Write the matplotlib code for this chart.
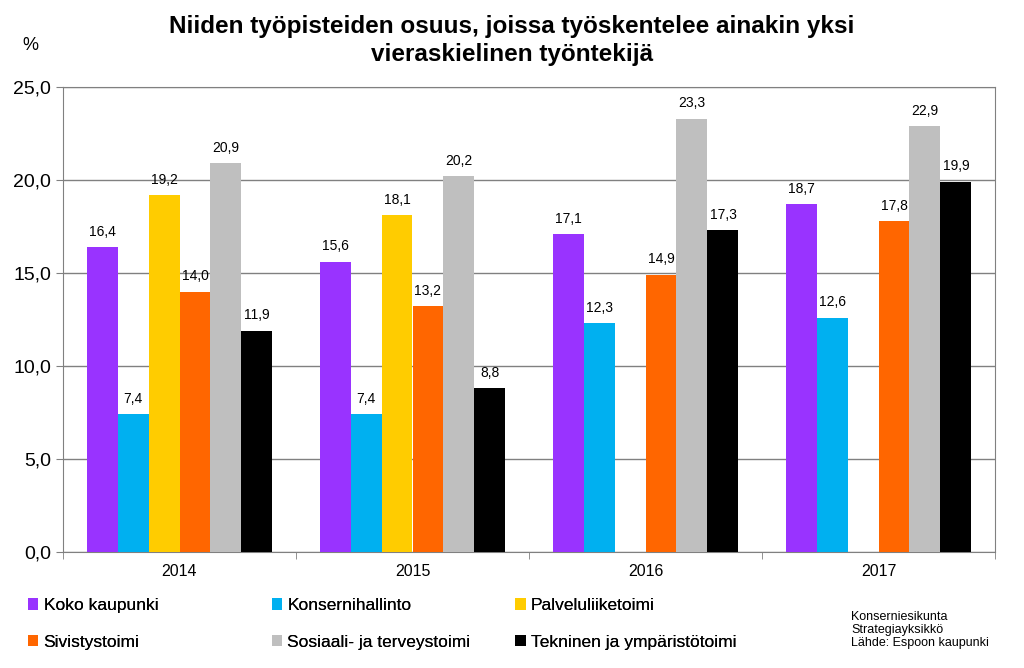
import numpy as np
import matplotlib.pyplot as plt
from matplotlib.ticker import FuncFormatter, FixedLocator

years = ["2014", "2015", "2016", "2017"]
series = ["Koko kaupunki", "Konsernihallinto", "Palveluliiketoimi",
          "Sivistystoimi", "Sosiaali- ja terveystoimi", "Tekninen ja ympäristötoimi"]
koko = [16.4, 15.6, 17.1, 18.7]
konserni = [7.4, 7.4, 12.3, 12.6]
palvelu = [19.2, 18.1, np.nan, np.nan]
sivistys = [14.0, 13.2, 14.9, 17.8]
sosiaali = [20.9, 20.2, 23.3, 22.9]
tekninen = [11.9, 8.8, 17.3, 19.9]
values = [koko, konserni, palvelu, sivistys, sosiaali, tekninen]
colors = ["#9933FF", "#00B0F0", "#FFCC00", "#FF6600", "#BFBFBF", "#000000"]

plt.rcParams['font.family'] = ["Liberation Sans", "DejaVu Sans"]

fig = plt.figure(figsize=(10.24, 6.68), dpi=100)
ax = fig.add_axes([63 / 1024, 1 - 552 / 668, (995 - 63) / 1024, (552 - 87) / 668])

x = np.arange(len(years))
w = 0.133
for i, (name, vals, c) in enumerate(zip(series, values, colors)):
    pos = x + (i - 2.5) * w
    ax.bar(pos, vals, w, color=c, label=name, zorder=3)
    for p, v in zip(pos, vals):
        if not np.isnan(v):
            ax.text(p, v + 0.45, f"{v:.1f}".replace(".", ","), ha="center",
                    va="bottom", fontsize=10, zorder=4)

ax.set_xlim(-0.5, 3.5)
ax.set_ylim(0, 25)
ax.set_yticks(np.arange(0, 25.1, 5))
ax.yaxis.set_major_formatter(FuncFormatter(lambda v, p: f"{v:.1f}".replace(".", ",")))
ax.yaxis.grid(True, color="#808080", linewidth=1, zorder=0)
ax.set_xticks(x)
ax.set_xticklabels(years)
ax.xaxis.set_minor_locator(FixedLocator(np.arange(-0.5, 3.6, 1)))
ax.tick_params(axis="x", which="major", length=0, labelsize=11.5, pad=9)
ax.tick_params(axis="x", which="minor", length=5, color="#808080")
ax.tick_params(axis="y", length=5, color="#808080", labelsize=14)
for s in ax.spines.values():
    s.set_color("#808080")

fig.text(0.5, 0.978, "Niiden työpisteiden osuus, joissa työskentelee ainakin yksi\nvieraskielinen työntekijä",
         ha="center", va="top", fontsize=17.5, fontweight="bold", linespacing=1.3)
fig.text(0.03, 0.945, "%", ha="center", va="top", fontsize=13)

handles, labels = ax.get_legend_handles_labels()
for col, xpos in enumerate([0.012, 0.25, 0.488]):
    idx = [col, col + 3]
    leg = fig.legend([handles[i] for i in idx], [labels[i] for i in idx],
                     loc="upper left", bbox_to_anchor=(xpos, 0.128), frameon=False,
                     handlelength=0.6, handleheight=0.6, handletextpad=0.3,
                     labelspacing=1.25, prop={"size": 12.5})
    fig.add_artist(leg)

fig.text(0.831, 0.057, "Konserniesikunta\nStrategiayksikkö\nLähde: Espoon kaupunki",
         ha="left", va="center", fontsize=9, linespacing=1.15)

fig.savefig("out.png", dpi=100)
